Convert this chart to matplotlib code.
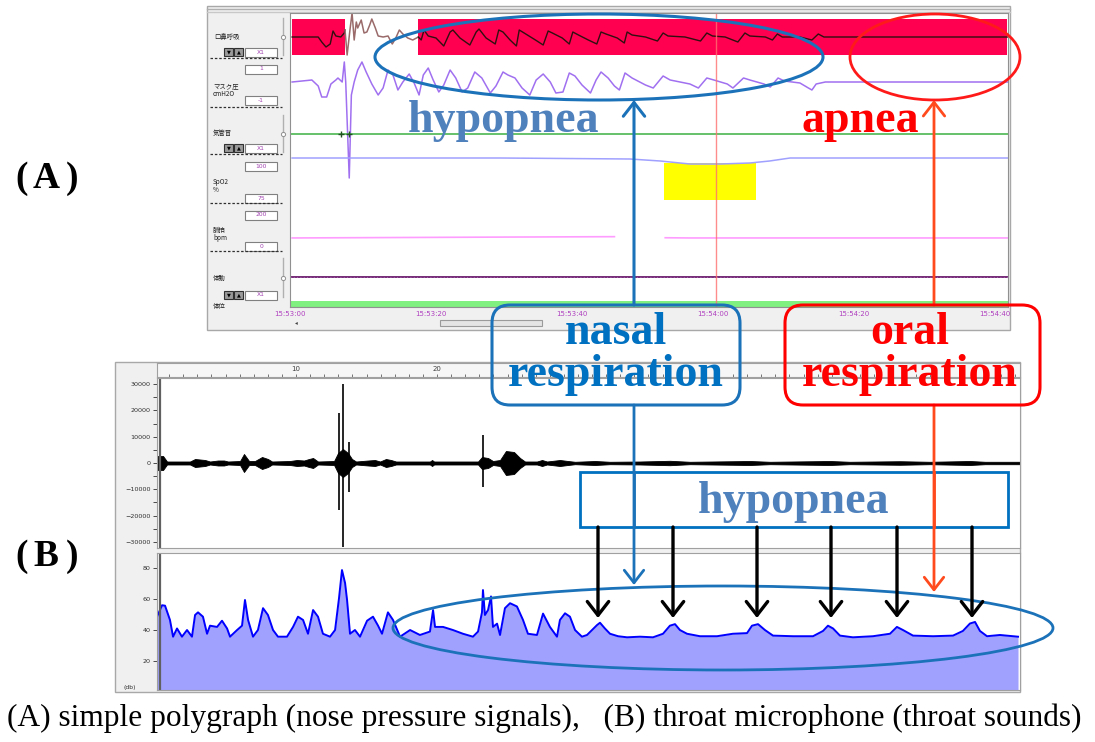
import numpy as np
import matplotlib.pyplot as plt
from matplotlib.patches import Rectangle, Ellipse, FancyBboxPatch

W, H = 1095, 742

# ---------------- (A) simple polygraph, time in seconds after 15:53:00
# oronasal flow (black inside the detection band, brown where it drops out)
flow_t1 = [0.3, 4.0, 4.5, 5.1, 5.7, 6.1, 6.5, 7.2, 7.7, 7.8]
flow_v1 = [0, 0, -5, -10, -7, 6, 1, 0, 4, 7]
flow_t2 = [7.8, 8.1, 8.5, 8.8, 9.1, 9.4, 9.6, 10.1, 10.5, 10.9, 11.3, 11.6, 12.1,
           12.5, 13.2, 13.9, 14.5, 15.0, 15.5, 16.0, 16.7, 17.4, 18.2]
flow_v2 = [7, -18, 7, 24, -3, 15, 9, 17, 4, 5, 12, 18, 9,
           1, 0, 1, -7, -1, 7, 3, -1, -3, 0]
flow_t3 = [18.2, 18.6, 19.0, 19.6, 20.7, 21.8, 22.7, 23.1, 24.1, 25.5, 26.4, 26.8,
           27.8, 29.1, 29.6, 30.2, 31.2, 32.1, 32.5, 33.2, 34.8, 35.9, 36.6, 37.2,
           38.6, 39.6, 40.1, 40.9, 42.3, 43.5, 44.1, 44.8, 46.4, 47.4, 47.8, 48.5,
           50.4, 52.1, 52.9, 53.6, 56.0, 58.2, 59.1, 59.9, 61.7, 63.5, 64.5, 65.2,
           67.4, 68.4, 69.1, 69.8, 72.3, 74.0, 74.9, 75.7, 101.7]
flow_v3 = [0, -3, 7, 1, -1, -9, 5, 7, -1, -8, 5, 8,
           -1, -7, 7, 5, -3, -9, 7, 4, -3, -8, 6, 4,
           -1, -7, 5, 2, -3, -7, 5, 3, -1, -6, 5, 2,
           0, -4, 4, 1, 0, -4, 4, 1, 0, -5, 4, 1,
           0, -3, 3, 0, 0, -3, 3, 0, 0]

# mask pressure (cmH2O)
mask_t = [0.3, 3.1, 4.0, 4.5, 5.2, 5.8, 6.5, 6.8, 7.4, 7.7, 7.9, 8.4, 8.7, 9.1, 9.6,
          10.2, 10.8, 11.6, 12.5, 13.2, 13.9, 14.6, 15.3, 16.0, 16.9, 17.6, 18.3,
          18.9, 19.6, 20.3, 21.1, 21.8, 22.7, 23.5, 24.4, 25.2, 26.2, 27.2, 28.4,
          29.2, 30.2, 30.9, 31.9, 32.9, 34.0, 34.9, 35.9, 36.9, 37.7, 38.7, 39.6,
          40.4, 41.4, 42.6, 43.4, 44.1, 45.1, 46.0, 46.7, 47.5, 48.5, 50.4, 51.5,
          52.9, 53.9, 56.7, 57.9, 59.1, 60.1, 62.0, 62.8, 64.3, 65.2, 67.2, 68.1,
          69.2, 70.1, 72.3, 73.5, 74.0, 74.6, 75.9, 101.7]
mask_v = [0, 2, -4, -15, -15, -2, 2, 4, 0, 20, 0, -96, -13, 0, 12,
          20, 10, -2, -13, -6, 12, 7, -8, 0, 8, -1, -13,
          7, 14, 2, -10, -3, 12, 4, -10, -6, 10, 4, -11,
          -4, 10, 7, 4, -6, -13, 2, 8, 0, -11, -10, 9,
          6, -3, -11, 2, 10, 4, -4, -8, 9, 4, -3, -6,
          6, 2, -2, -6, 4, 2, -2, -6, 4, 2, -2, -5,
          4, 1, -1, -6, -8, -2, 0, 0]

# SpO2 (%) and pulse rate (bpm)
spo2_t = [0.3, 29.8, 48.2, 52.5, 56.7, 61.0, 65.2, 68.0, 70.9, 101.7]
spo2_v = [98.5, 98.5, 98.0, 97.0, 95.5, 95.5, 96.0, 97.0, 98.5, 98.5]
pulse_t = [0.3, 29.8, 46.0, 46.1, 53.2, 56.7, 101.7]
pulse_v = [56, 60, 62, np.nan, 57, 56, 56]

flow_band = [(0.3, 7.8), (18.2, 101.7)]   # detected respiration
desat_span = (53.0, 66.0)                 # SpO2 desaturation event
cursor_t = 60.4
snore_marks = [7.2, 8.3]
time_ticks = [0, 20, 40, 60, 80, 100]
time_labels = ["15:53:00", "15:53:20", "15:53:40", "15:54:00", "15:54:20", "15:54:40"]

# ---------------- (B) throat microphone, time in seconds
env_t = [0.21, 0.57, 0.85, 2.48, 2.84, 3.55, 3.90, 4.47, 4.89, 5.18, 6.03, 6.31, 6.67,
         7.09, 7.59, 8.01, 8.30, 9.57, 10.07, 10.57, 10.92, 11.21, 11.56, 12.70,
         12.98, 13.33, 13.69, 13.97, 14.26, 15.11, 15.60, 15.96, 16.38, 16.74, 17.09,
         19.50, 19.65, 19.79, 22.91, 23.19, 23.62, 23.97, 24.47, 24.89, 25.46, 25.89,
         26.24, 27.09, 27.45, 27.80, 28.72, 29.29, 29.79, 31.21, 32.27, 34.40, 36.52,
         37.94, 42.20, 43.62, 47.87, 49.29, 52.84, 54.96, 57.80, 58.87, 61.35]
env_a = [2660, 2660, 570, 570, 1520, 1140, 570, 950, 950, 570, 760, 3420, 760,
         760, 2280, 1520, 570, 760, 1140, 950, 1520, 1900, 570, 760,
         3800, 5320, 3800, 1520, 570, 950, 1140, 570, 1520, 1140, 570,
         570, 1140, 570, 570, 2280, 1900, 760, 1140, 4560, 4180, 1900,
         570, 570, 1140, 570, 1140, 760, 460, 760, 460, 570, 840,
         460, 760, 460, 760, 460, 680, 460, 760, 460, 460]
spike_t = [13.05, 13.33, 13.76, 23.26]
spike_hi = [19000, 30000, 8000, 10500]
spike_lo = [-18000, -32000, -11000, -9200]

db_t = [0.14, 0.50, 0.71, 1.06, 1.28, 1.56, 1.91, 2.27, 2.62, 2.84, 3.05, 3.40, 3.69,
        3.90, 4.40, 4.75, 5.11, 5.32, 5.82, 6.17, 6.38, 6.60, 6.95, 7.30, 7.66, 8.01,
        8.37, 8.72, 9.36, 9.79, 10.14, 10.50, 10.85, 11.21, 11.56, 11.91, 12.41, 12.77,
        13.05, 13.26, 13.48, 13.62, 13.83, 14.18, 14.54, 15.04, 15.46, 15.82, 16.10,
        16.52, 16.88, 17.38, 18.09, 18.79, 19.50, 19.72, 19.86, 20.43, 21.13, 21.84,
        22.55, 22.91, 23.19, 23.26, 23.40, 23.62, 23.83, 23.97, 24.26, 24.47, 24.82,
        25.18, 25.67, 26.10, 26.45, 27.09, 27.52, 28.01, 28.51, 28.72, 29.08, 29.43,
        29.79, 30.28, 30.64, 30.99, 31.35, 31.56, 31.91, 32.27, 32.84, 33.48, 34.40,
        35.32, 36.03, 36.52, 36.88, 37.23, 37.73, 38.65, 39.86, 40.99, 41.99, 42.34,
        42.77, 43.26, 43.83, 45.25, 46.67, 47.38, 47.73, 48.09, 48.58, 49.50, 50.92,
        52.13, 52.62, 53.05, 53.76, 55.18, 56.60, 57.30, 57.80, 58.16, 58.51, 59.01,
        59.93, 61.21]
db_v = [48.6, 56.0, 55.7, 46.5, 35.7, 41.0, 35.7, 40.0, 35.7, 49.7, 51.4, 48.6, 37.6,
        42.8, 42.0, 46.0, 41.0, 35.7, 40.0, 42.8, 59.4, 46.5, 35.7, 40.0, 54.1, 49.7,
        40.0, 35.7, 35.7, 42.0, 48.6, 46.5, 37.6, 52.9, 48.6, 37.6, 35.7, 40.0,
        60.6, 78.7, 70.3, 59.4, 37.6, 40.0, 35.7, 46.0, 48.6, 42.8, 37.6,
        51.4, 46.5, 35.7, 40.0, 36.8, 39.0, 52.9, 42.0, 42.0, 40.0, 37.6,
        35.7, 39.0, 51.4, 65.8, 49.7, 52.9, 61.7, 42.0, 44.1, 36.8, 54.1,
        57.3, 55.2, 46.5, 37.6, 36.8, 50.6, 42.0, 35.7, 46.5, 50.8, 48.6,
        40.0, 35.7, 36.8, 40.0, 43.2, 44.7, 41.0, 37.6, 36.0, 35.3, 35.7,
        35.3, 37.6, 42.8, 43.8, 40.0, 37.6, 36.0, 36.0, 37.6, 38.0, 42.8,
        43.8, 40.0, 36.4, 36.0, 36.0, 39.4, 42.8, 41.0, 36.4, 35.3, 36.0,
        37.6, 42.0, 40.0, 36.4, 36.0, 36.4, 39.4, 44.2, 45.2, 39.4, 36.0,
        36.8, 35.7]
audio_ticks = [-30000, -20000, -10000, 0, 10000, 20000, 30000]
db_ticks = [20, 40, 60, 80]
ruler_labels = [10, 20]   # later ones sit under the callout lettering

BLUE = "#1c72b8"
TXT_BLUE = "#0070c0"
STEEL = "#4f81bd"
RED = "#ff0000"
ORANGE = "#ff4a1e"
SERIF = "Liberation Serif"
JP = ["Noto Sans CJK JP", "DejaVu Sans"]

fig = plt.figure(figsize=(W / 100, H / 100), dpi=100)


def px_axes(x0, y0, x1, y1, **kw):
    return fig.add_axes([x0 / W, 1 - y1 / H, (x1 - x0) / W, (y1 - y0) / H], **kw)


# background layer for the two recorder windows (pixel coordinates)
bg = px_axes(0, 0, W, H, zorder=0)
bg.set_xlim(0, W)
bg.set_ylim(H, 0)
bg.axis("off")

# panel A window
bg.add_patch(Rectangle((207, 6), 803, 324, fc="#f0f0f0", ec="#a8a8a8", lw=1))
bg.plot([207, 1010], [9, 9], color="#b0b0b0", lw=1)
bg.plot([207, 1010], [12, 12], color="#c8c8c8", lw=1)
for y in [58, 107, 154, 203, 251]:
    bg.plot([210, 282], [y, y], color="#303030", lw=0.9, ls=(0, (2, 1.5)))
for s, x, y in [("口鼻呼吸", 214, 37), ("マスク圧", 213, 86), ("cmH2O", 213, 94),
                ("気管音", 213, 133), ("SpO2", 213, 182), ("%", 213, 190),
                ("脈拍", 213, 230), ("bpm", 213, 238), ("体動", 213, 278),
                ("体位", 213, 306)]:
    bg.text(x, y, s, fontsize=4.6, family=JP, va="center", ha="left", color="#202020")
for y, s in [(52, "X1"), (69, "1"), (100, "-1"), (148, "X1"), (166, "100"),
             (198, "75"), (215, "200"), (246, "0"), (295, "X1")]:
    bg.add_patch(Rectangle((245, y - 4.5), 32, 9, fc="white", ec="#808080", lw=0.8))
    bg.text(261, y, s, fontsize=4.3, color="#a040b0", ha="center", va="center")
for y in [52, 148, 295]:
    for x0, s in [(224, "▼"), (234, "▲")]:
        bg.add_patch(Rectangle((x0, y - 4), 9, 8, fc="#9a9a9a", ec="#303030", lw=0.8))
        bg.text(x0 + 4.5, y, s, fontsize=3.6, ha="center", va="center", color="black")
for y0, y1 in [(18, 55), (115, 152), (258, 297)]:
    bg.plot([283, 283], [y0, y1], color="#b0b0b0", lw=1)
    bg.plot([283], [(y0 + y1) / 2], "o", ms=3, mfc="white", mec="#909090", mew=0.7)
bg.add_patch(Rectangle((440, 320), 102, 6, fc="#e4e4e4", ec="#9a9a9a", lw=0.8))
bg.text(296, 323, "◂", fontsize=4, ha="center", va="center", color="#404040")

# panel B window
bg.add_patch(Rectangle((115, 362), 905, 330, fc="#f0f0f0", ec="#a8a8a8", lw=1))

# ---------------- panel A plot
axA = px_axes(290, 13, 1008, 307, zorder=1)
axA.set_xlim(0, 101.8)
axA.set_ylim(294, 0)
for t0, t1 in flow_band:
    axA.axvspan(t0, t1, ymin=1 - 42 / 294, ymax=1 - 6 / 294, color="#ff0050", lw=0)
axA.axvspan(*desat_span, ymin=1 - 187 / 294, ymax=1 - 150 / 294, color="#ffff00", lw=0)
axA.axhspan(288, 294, color="#80f080", lw=0)
axA.plot(flow_t1, [24 - v for v in flow_v1], color="#301010", lw=1)
axA.plot(flow_t2, [24 - v for v in flow_v2], color="#9a6a6a", lw=1.1)
axA.plot(flow_t3, [24 - v for v in flow_v3], color="#301010", lw=1)
axA.plot(mask_t, [69 - v for v in mask_v], color="#a070f0", lw=1.1)
axA.axhline(121, color="#3cb043", lw=1.1)
axA.plot(snore_marks, [121, 121], "+", color="#205020", ms=5, mew=1)
axA.plot(spo2_t, [142 + (100 - s) * 2 for s in spo2_v], color="#a0a0ff", lw=1.1)
axA.plot(pulse_t, [194 + (200 - b) * 0.215 for b in pulse_v], color="#ff9cff", lw=1.2)
axA.axhline(264, color="#6a1a6a", lw=1.3)
axA.axhline(264, color="#b070c0", lw=0.6, ls=(0, (1, 3)))
axA.axvline(cursor_t, color="#ff7070", lw=1, alpha=0.8)
axA.set_yticks([])
axA.set_xticks(time_ticks)
axA.set_xticklabels(time_labels)
axA.tick_params(axis="x", length=0, pad=3, labelsize=5, labelcolor="#b040c0")
for sp in axA.spines.values():
    sp.set_color("#909090")
    sp.set_linewidth(0.8)

# ---------------- panel B ruler
axR = px_axes(157, 363, 1020, 377, zorder=1)
axR.set_xlim(0.14, 61.35)
axR.set_ylim(0, 1)
axR.set_facecolor("#f6f6f6")
axR.set_yticks([])
axR.set_xticks(range(1, 62))
axR.set_xticklabels([])
axR.tick_params(axis="x", direction="in", length=2.5, width=0.6, color="#606060")
for v in ruler_labels:
    axR.text(v, 0.55, str(v), fontsize=5, ha="center", va="center", color="#404040",
             bbox=dict(fc="#f6f6f6", ec="none", pad=0.3))
for sp in axR.spines.values():
    sp.set_color("#a0a0a0")

# ---------------- panel B waveform
axW = px_axes(157, 378, 1020, 548, zorder=1)
axW.set_xlim(0.14, 61.35)
axW.set_ylim(-32300, 32300)
axW.fill_between(env_t, [-a for a in env_a], env_a, color="black", lw=0.6)
axW.vlines(spike_t, spike_lo, spike_hi, color="black", lw=1.2)
axW.axvline(0.35, color="#606060", lw=1.6)
axW.set_xticks([])
axW.set_yticks(audio_ticks)
axW.set_yticklabels([f"{v:d}".replace("-", "−") for v in audio_ticks])
axW.set_yticks([-25000, -15000, -5000, 5000, 15000, 25000], minor=True)
axW.tick_params(axis="y", which="both", length=3, width=0.6, pad=1.5,
                labelsize=4.6, colors="#303030")
for sp in axW.spines.values():
    sp.set_color("#a0a0a0")

# ---------------- panel B level (dB)
axD = px_axes(157, 553, 1020, 690, zorder=1)
axD.set_xlim(0.14, 61.35)
axD.set_ylim(1.3, 89.7)
axD.fill_between(db_t, 0, db_v, color="#a0a0ff", lw=0)
axD.plot(db_t, db_v, color="#0000ff", lw=1.4)
axD.axvline(0.35, color="#606060", lw=1.6)
axD.set_xticks([])
axD.set_yticks(db_ticks)
axD.tick_params(axis="y", length=3, width=0.6, pad=1.5, labelsize=4.6, colors="#303030")
for sp in axD.spines.values():
    sp.set_color("#a0a0a0")

# ---------------- annotations (pixel coordinates)
ov = px_axes(0, 0, W, H, zorder=5)
ov.set_xlim(0, W)
ov.set_ylim(H, 0)
ov.axis("off")
ov.patch.set_alpha(0)

ov.text(130, 688, "(db)", fontsize=4.4, ha="center", va="center", color="#303030")

ov.add_patch(Ellipse((599, 57), 448, 86, fill=False, ec=BLUE, lw=2.2))
ov.add_patch(Ellipse((935, 57), 170, 86, fill=False, ec="#ff1a1a", lw=2))
ov.add_patch(Ellipse((723, 628), 660, 84, fill=False, ec=BLUE, lw=2))


def arrow(x, y0, y1, color, lw, scale):
    ov.annotate("", xy=(x, y1), xytext=(x, y0),
                arrowprops=dict(arrowstyle="->,head_length=0.45,head_width=0.35",
                                color=color, lw=lw, mutation_scale=scale,
                                shrinkA=0, shrinkB=0))


arrow(634, 305, 100, BLUE, 2.2, 22)
arrow(934, 305, 100, ORANGE, 2, 22)
arrow(634, 405, 585, BLUE, 2, 20)
arrow(934, 405, 592, ORANGE, 2, 20)
for x in [598, 673, 757, 831, 897, 972]:
    arrow(x, 527, 618, "black", 2.4, 22)

ov.add_patch(Rectangle((580, 472), 428, 55, fc="white", ec=TXT_BLUE, lw=2, zorder=1))
ov.plot([634, 634], [472, 527], color=BLUE, lw=2, zorder=2)
ov.plot([934, 934], [472, 527], color=ORANGE, lw=2, zorder=2)
ov.add_patch(FancyBboxPatch((492, 305), 248, 100, boxstyle="round,pad=0,rounding_size=18",
                            fc="none", ec=BLUE, lw=2.2, zorder=3))
ov.add_patch(FancyBboxPatch((785, 305), 255, 100, boxstyle="round,pad=0,rounding_size=18",
                            fc="none", ec=RED, lw=2.2, zorder=3))

big = dict(family=SERIF, weight="bold", fontsize=33, ha="center", va="center", zorder=4)
ov.text(504, 121, "hypopnea", color=STEEL, **big)
ov.text(860, 121, "apnea", color=RED, **big)
ov.text(616, 333, "nasal", color=TXT_BLUE, **big)
ov.text(616, 375, "respiration", color=TXT_BLUE, **big)
ov.text(910, 333, "oral", color=RED, **big)
ov.text(910, 375, "respiration", color=RED, **big)
ov.text(794, 502, "hypopnea", color=STEEL, **big)

for lab, y in [("A", 179), ("B", 556)]:
    ov.text(22, y, "(", family=SERIF, weight="bold", fontsize=27, ha="center", va="center")
    ov.text(46, y, lab, family=SERIF, weight="bold", fontsize=27, ha="center", va="center")
    ov.text(72, y, ")", family=SERIF, weight="bold", fontsize=27, ha="center", va="center")

ov.text(544, 718, "(A) simple polygraph (nose pressure signals),   "
        "(B) throat microphone (throat sounds)",
        family=SERIF, fontsize=22.6, ha="center", va="center", color="black")

fig.savefig("out.png", dpi=100)
